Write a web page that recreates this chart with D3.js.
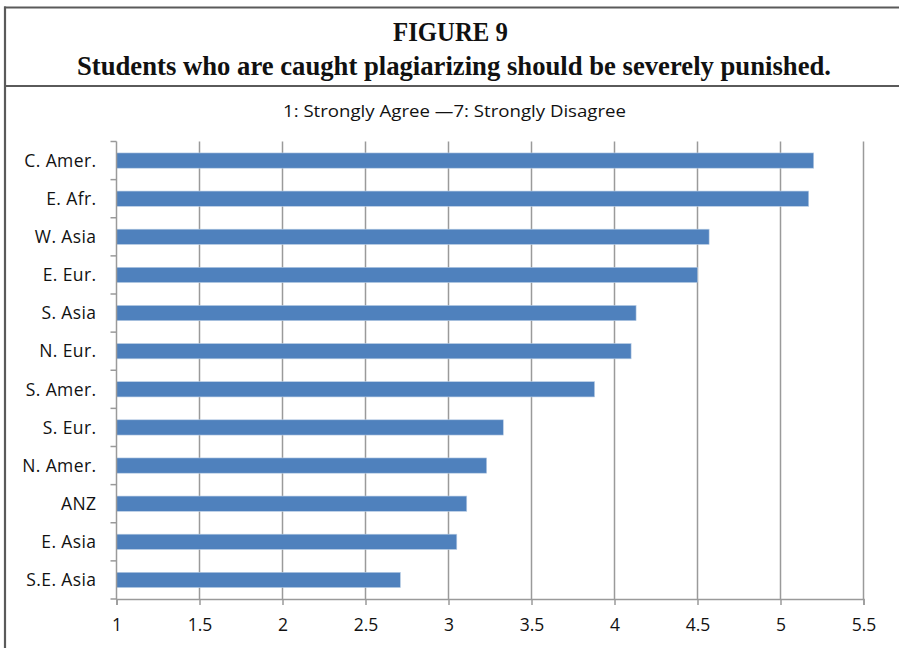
<!DOCTYPE html>
<html>
<head>
<meta charset="utf-8">
<script src="https://cdn.jsdelivr.net/npm/d3@7"></script>
<style>
  html, body { margin: 0; padding: 0; background: #fff; }
  svg { display: block; }
</style>
</head>
<body>
<svg id="chart" width="899" height="648"></svg>
<script>
// Survey results: mean agreement by region
const figureLabel = "FIGURE 9";
const figureTitle = "Students who are caught plagiarizing should be severely punished.";
const scaleNote = "1: Strongly Agree \u20147: Strongly Disagree";

const regions = ["C. Amer.", "E. Afr.", "W. Asia", "E. Eur.", "S. Asia", "N. Eur.",
                 "S. Amer.", "S. Eur.", "N. Amer.", "ANZ", "E. Asia", "S.E. Asia"];
const means = [5.20, 5.17, 4.57, 4.50, 4.13, 4.10, 3.88, 3.33, 3.23, 3.11, 3.05, 2.71];
const xTicks = [1, 1.5, 2, 2.5, 3, 3.5, 4, 4.5, 5, 5.5];

const svg = d3.select("#chart");
const W = 899, H = 648;

// Frame: top rule, rule under the heading, left edge
const frame = svg.append("g").attr("stroke", "#5a5a5a").attr("stroke-width", 2.2);
frame.append("line").attr("x1", 4).attr("x2", W).attr("y1", 7.5).attr("y2", 7.5);
frame.append("line").attr("x1", 4).attr("x2", W).attr("y1", 86).attr("y2", 86);
frame.append("line").attr("x1", 5).attr("x2", 5).attr("y1", 6.5).attr("y2", H);

// Heading
svg.append("text")
  .attr("x", 450.5).attr("y", 41)
  .attr("text-anchor", "middle")
  .attr("font-family", "'Liberation Serif', 'Times New Roman', serif")
  .attr("font-weight", "bold").attr("font-size", 28)
  .attr("textLength", 115).attr("lengthAdjust", "spacingAndGlyphs")
  .attr("fill", "#111")
  .text(figureLabel);

svg.append("text")
  .attr("x", 454).attr("y", 74.5)
  .attr("text-anchor", "middle")
  .attr("font-family", "'Liberation Serif', 'Times New Roman', serif")
  .attr("font-weight", "bold").attr("font-size", 27.5)
  .attr("textLength", 754).attr("lengthAdjust", "spacingAndGlyphs")
  .attr("fill", "#111")
  .text(figureTitle);

svg.append("text")
  .attr("x", 454.5).attr("y", 117)
  .attr("text-anchor", "middle")
  .attr("font-family", "'Open Sans', 'Noto Sans', sans-serif")
  .attr("font-size", 15.5)
  .attr("textLength", 343).attr("lengthAdjust", "spacingAndGlyphs")
  .attr("fill", "#111")
  .text(scaleNote);

// Scales
const x = d3.scaleLinear().domain([1, 5.5]).range([116.5, 863.5]);
const y = d3.scaleBand().domain(regions).range([141.5, 599])
  .paddingInner(0.6).paddingOuter(0.3);
const step = y.step();
const plotTop = y.range()[0], plotBottom = y.range()[1];

const gridColor = "#9a9a9a";
const labelFont = "'Open Sans', 'Noto Sans', sans-serif";

// Vertical gridlines
svg.append("g")
  .selectAll("line")
  .data(xTicks.slice(1))
  .join("line")
  .attr("x1", d => x(d)).attr("x2", d => x(d))
  .attr("y1", plotTop).attr("y2", plotBottom)
  .attr("stroke", gridColor).attr("stroke-width", 1.5);

// Bars
svg.append("g")
  .selectAll("rect")
  .data(regions.map((r, i) => ({ region: r, value: means[i] })))
  .join("rect")
  .attr("x", x(1))
  .attr("y", d => y(d.region))
  .attr("width", d => x(d.value) - x(1))
  .attr("height", y.bandwidth())
  .attr("fill", "#4f81bd")
  .attr("stroke", "#b9cde5").attr("stroke-width", 0.6);

// X axis
const xAxis = svg.append("g")
  .attr("transform", `translate(0,${plotBottom})`)
  .call(d3.axisBottom(x).tickValues(xTicks).tickFormat(d3.format("")).tickSize(6).tickPadding(14));
xAxis.select(".domain").attr("stroke", gridColor).attr("stroke-width", 1.5);
xAxis.selectAll(".tick line").attr("stroke", gridColor).attr("stroke-width", 1.5);
xAxis.selectAll(".tick text")
  .attr("font-family", labelFont).attr("font-size", 17.5).attr("fill", "#111");

// Y axis: line with ticks on category boundaries
const yAxis = svg.append("g");
yAxis.append("line")
  .attr("x1", x(1)).attr("x2", x(1)).attr("y1", plotTop).attr("y2", plotBottom)
  .attr("stroke", gridColor).attr("stroke-width", 1.5);
yAxis.selectAll("line.bound")
  .data(d3.range(regions.length + 1))
  .join("line").attr("class", "bound")
  .attr("x1", x(1) - 6).attr("x2", x(1))
  .attr("y1", i => plotTop + i * step).attr("y2", i => plotTop + i * step)
  .attr("stroke", gridColor).attr("stroke-width", 1.5);
yAxis.selectAll("text")
  .data(regions)
  .join("text")
  .attr("x", x(1) - 20)
  .attr("y", d => y(d) + y.bandwidth() / 2)
  .attr("dy", "0.36em")
  .attr("text-anchor", "end")
  .attr("font-family", labelFont).attr("font-size", 17.5)
  .attr("letter-spacing", 0.4)
  .attr("fill", "#111")
  .text(d => d);
</script>
</body>
</html>
